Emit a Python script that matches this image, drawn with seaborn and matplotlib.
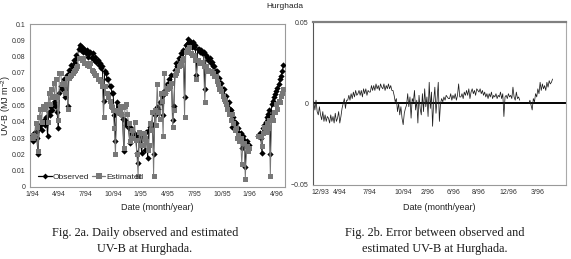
import numpy as np
import pandas as pd
import matplotlib
matplotlib.use("Agg")
import matplotlib.pyplot as plt
import seaborn as sns
from matplotlib.lines import Line2D

# ---------------- data (UV-B in 1e-3 MJ m-2, i.e. kJ m-2) ----------------
# two measuring runs; days counted from 1 Jan 1994, one reading every 4 days
run_start_day = [0, 760]
sample_step_days = 4

observed_run1 = [
    31, 28, 33, 34, 30, 20, 36, 38, 35, 39,
    41, 38, 43, 31, 46, 44, 49, 47, 52, 50,
    55, 46, 36, 58, 62, 60, 64, 66, 55, 69,
    50, 72, 70, 75, 73, 78, 76, 81, 79, 85,
    87, 84, 86, 83, 85, 82, 84, 80, 82, 83,
    79, 82, 78, 80, 77, 78, 75, 76, 73, 74,
    53, 71, 70, 66, 66, 62, 62, 58, 58, 44,
    28, 52, 48, 49, 45, 45, 42, 22, 41, 38,
    39, 36, 27, 36, 33, 34, 31, 32, 21, 15,
    30, 28, 21, 31, 30, 23, 34, 18, 35, 37,
    39, 38, 20, 44, 45, 49, 48, 52, 52, 56,
    44, 59, 58, 63, 62, 66, 64, 69, 41, 50,
    72, 76, 74, 79, 78, 82, 80, 84, 55, 87,
    88, 91, 89, 89, 86, 89, 86, 87, 69, 85,
    85, 83, 84, 82, 83, 60, 81, 80, 78, 79,
    76, 77, 74, 74, 71, 71, 67, 67, 64, 64,
    60, 60, 56, 56, 52, 52, 48, 47, 37, 43,
    40, 39, 36, 36, 33, 33, 24, 31, 29, 12,
    28, 26, 26,
]
estimated_run1 = [
    30, 32, 31, 39, 37, 22, 43, 48, 40, 50,
    48, 49, 51, 40, 58, 51, 60, 55, 64, 56,
    66, 55, 41, 70, 70, 63, 64, 63, 58, 67,
    48, 67, 68, 69, 70, 71, 72, 73, 74, 79,
    79, 79, 78, 79, 76, 76, 75, 75, 74, 76,
    72, 71, 70, 69, 69, 66, 66, 65, 65, 62,
    43, 62, 58, 58, 55, 53, 50, 49, 47, 36,
    20, 47, 47, 46, 50, 45, 49, 24, 50, 51,
    45, 39, 28, 30, 35, 30, 40, 29, 20, 7,
    34, 26, 33, 26, 33, 30, 28, 23, 26, 39,
    35, 46, 7, 47, 38, 63, 46, 42, 58, 53,
    31, 70, 58, 60, 61, 62, 62, 64, 37, 47,
    69, 70, 72, 74, 75, 76, 78, 79, 43, 83,
    84, 85, 86, 82, 81, 81, 81, 78, 66, 78,
    76, 77, 76, 77, 74, 52, 74, 71, 72, 71,
    71, 70, 70, 68, 68, 65, 63, 60, 61, 59,
    56, 54, 53, 51, 48, 45, 45, 41, 45, 39,
    35, 36, 30, 32, 28, 30, 14, 27, 27, 5,
    25, 22, 24,
]
observed_run2 = [31, 33, 30, 21, 36, 38, 40, 43, 45, 47, 20,
                 51, 53, 55, 57, 59, 61, 63, 66, 68, 71, 75]
estimated_run2 = [31, 31, 31, 25, 33, 37, 34, 39, 36, 41, 7,
                  43, 41, 46, 46, 51, 48, 53, 52, 56, 58, 60]

series_names = ["Observed", "Estimated"]

left_tick_days = [0, 90, 181, 273, 365, 455, 546, 638, 730, 821]
left_tick_labels = ["1/94", "4/94", "7/94", "10/94", "1/95", "4/95",
                    "7/95", "10/95", "1/96", "4/96"]
left_y_ticks = [0, 0.01, 0.02, 0.03, 0.04, 0.05, 0.06, 0.07, 0.08, 0.09, 0.1]
left_y_labels = ["0", "0.01", "0.02", "0.03", "0.04", "0.05", "0.06",
                 "0.07", "0.08", "0.09", "0.1"]

right_tick_days = [25, 92, 198, 318, 403, 495, 583, 689, 792]
right_tick_labels = ["12/93", "4/94", "7/94", "10/94", "2/96", "6/96",
                     "8/96", "12/96", "3/96"]
right_y_ticks = [-0.05, 0, 0.05]
right_y_labels = ["\u22120.05", "0", "0.05"]

# ---------------- build table ----------------
rows = []
for run, (start, obs, est) in enumerate(zip(run_start_day,
                                            [observed_run1, observed_run2],
                                            [estimated_run1, estimated_run2])):
    for i, (o, e) in enumerate(zip(obs, est)):
        rows.append({"day": start + i * sample_step_days, "run": run,
                     "Observed": o / 1000.0, "Estimated": e / 1000.0})
df = pd.DataFrame(rows)
df["Error"] = df["Observed"] - df["Estimated"]

# ---------------- style ----------------
sns.set_style("white")
plt.rcParams["font.family"] = ["Liberation Sans", "DejaVu Sans"]
plt.rcParams["mathtext.fontset"] = "custom"
plt.rcParams["mathtext.rm"] = "Liberation Sans"
plt.rcParams["mathtext.it"] = "Liberation Sans:italic"

fig = plt.figure(figsize=(5.71, 2.59), dpi=100)
ax1 = fig.add_axes([0.0525, 0.278, 0.4465, 0.629])
ax2 = fig.add_axes([0.548, 0.286, 0.443, 0.629])

obs_color = "black"
est_color = "#787878"

# ---------------- left panel ----------------
sns.lineplot(data=df, x="day", y="Observed", units="run", estimator=None,
             ax=ax1, color=obs_color, lw=0.7, marker="D", markersize=3.2,
             markeredgewidth=0, zorder=3)
sns.lineplot(data=df, x="day", y="Estimated", units="run", estimator=None,
             ax=ax1, color=est_color, lw=0.7, marker="s", markersize=3.6,
             markeredgewidth=0, zorder=4)

ax1.set_xlim(-7, 849)
ax1.set_ylim(0, 0.1)
ax1.set_xticks(left_tick_days)
ax1.set_xticklabels(left_tick_labels)
ax1.set_yticks(left_y_ticks)
ax1.set_yticklabels(left_y_labels)
ax1.tick_params(axis="both", labelsize=5, length=1.5, width=0.5,
                color="#888888", labelcolor="#333333", pad=1.5)
for s in ax1.spines.values():
    s.set_color("#9a9a9a")
    s.set_linewidth(0.8)
ax1.set_xlabel("Date (month/year)", fontsize=6.5, color="#222222")
ax1.set_ylabel("UV-B (MJ m$^{-2}$)", fontsize=6.5, color="#222222")
ax1.xaxis.set_label_coords(0.5, -0.10)
ax1.yaxis.set_label_coords(-0.068, 0.5)

handles = [
    Line2D([], [], color=obs_color, lw=0.9, marker="D", markersize=3,
           markeredgewidth=0),
    Line2D([], [], color=est_color, lw=0.9, marker="s", markersize=5,
           markeredgewidth=0),
]
ax1.legend(handles, series_names, loc="lower left",
           bbox_to_anchor=(0.01, 0.0), ncol=2, frameon=False, fontsize=6,
           handlelength=1.6, handletextpad=0.15, columnspacing=0.3,
           borderaxespad=0.3)

# ---------------- right panel ----------------
ax2.axhline(0, color="black", lw=1.4, zorder=2)
sns.lineplot(data=df, x="day", y="Error", units="run", estimator=None,
             ax=ax2, color="#1e1e1e", lw=0.55, zorder=3)
ax2.set_xlim(-3, 891)
ax2.set_ylim(-0.05, 0.05)
ax2.set_xticks(right_tick_days)
ax2.set_xticklabels(right_tick_labels)
ax2.set_yticks(right_y_ticks)
ax2.set_yticklabels(right_y_labels)
ax2.tick_params(axis="both", labelsize=5, length=1.5, width=0.6,
                color="#444444", labelcolor="#333333", pad=1.5)
ax2.spines["top"].set_color("#808080")
ax2.spines["top"].set_linewidth(1.6)
ax2.spines["left"].set_color("#555555")
ax2.spines["left"].set_linewidth(0.8)
ax2.spines["bottom"].set_color("#999999")
ax2.spines["bottom"].set_linewidth(0.8)
ax2.spines["right"].set_color("#aaaaaa")
ax2.spines["right"].set_linewidth(0.8)
ax2.set_xlabel("Date (month/year)", fontsize=6.5, color="#222222")
ax2.set_ylabel("")
ax2.xaxis.set_label_coords(0.5, -0.11)

# ---------------- titles / captions ----------------
fig.text(285 / 571, 1 - 7 / 259, "Hurghada", ha="center", va="center",
         fontsize=6, color="#222222")
cap = dict(ha="center", va="center", fontsize=8.8, family="Liberation Serif",
           color="#1a1a1a")
fig.text(145 / 571, 1 - 233 / 259, "Fig. 2a. Daily observed and estimated", **cap)
fig.text(145 / 571, 1 - 249 / 259, "UV-B at Hurghada.", **cap)
fig.text(435 / 571, 1 - 233 / 259, "Fig. 2b. Error between observed and", **cap)
fig.text(435 / 571, 1 - 249 / 259, "estimated UV-B at Hurghada.", **cap)

fig.savefig("out.png", dpi=100)
